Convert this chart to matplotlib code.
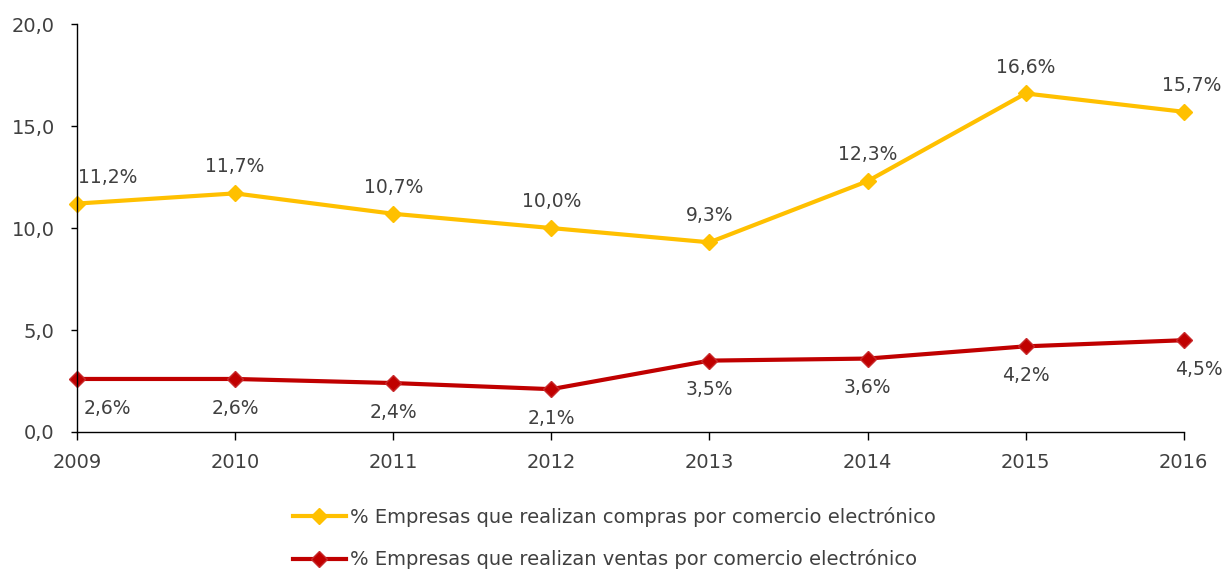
import matplotlib.pyplot as plt
from matplotlib.ticker import FuncFormatter

years = [2009, 2010, 2011, 2012, 2013, 2014, 2015, 2016]
compras = [11.2, 11.7, 10.7, 10.0, 9.3, 12.3, 16.6, 15.7]
ventas = [2.6, 2.6, 2.4, 2.1, 3.5, 3.6, 4.2, 4.5]
label_compras = "% Empresas que realizan compras por comercio electrónico"
label_ventas = "% Empresas que realizan ventas por comercio electrónico"

yellow = "#FFC000"
red = "#C00000"
grey = "#404040"

plt.rcParams['font.family'] = ['DejaVu Sans']

fig = plt.figure(figsize=(12.28, 5.74), dpi=100)
ax = fig.add_axes([0.0627, 0.2474, 0.9013, 0.7106])

ax.plot(years, compras, color=yellow, lw=3, marker='D', ms=8, label=label_compras)
ax.plot(years, ventas, color=red, lw=3, marker='D', ms=8, mec="#C8292B", label=label_ventas)

def fmt(v):
    return ("%.1f%%" % v).replace('.', ',')

# data labels
for i, (x, v) in enumerate(zip(years, compras)):
    dx = 0
    ha = 'center'
    if i == 0:
        dx, ha = 1, 'left'
    elif i == len(years) - 1:
        dx = 6
    ax.annotate(fmt(v), (x, v), xytext=(dx, 19), textcoords='offset points',
                ha=ha, va='center', fontsize=13.5, color=grey)
for i, (x, v) in enumerate(zip(years, ventas)):
    dx = 0
    ha = 'center'
    if i == 0:
        dx, ha = 5, 'left'
    elif i == len(years) - 1:
        dx = 11
    ax.annotate(fmt(v), (x, v), xytext=(dx, -21), textcoords='offset points',
                ha=ha, va='center', fontsize=13.5, color=grey)

ax.set_xlim(2009, 2016)
ax.set_ylim(0, 20)
ax.set_xticks(years)
ax.set_yticks([0, 5, 10, 15, 20])
ax.yaxis.set_major_formatter(FuncFormatter(lambda v, p: ("%.1f" % v).replace('.', ',')))

for s in ['top', 'right']:
    ax.spines[s].set_visible(False)
for s in ['left', 'bottom']:
    ax.spines[s].set_color('black')
    ax.spines[s].set_linewidth(1)
ax.tick_params(axis='both', colors='black', labelcolor=grey, labelsize=14,
               width=1, direction='out')
ax.tick_params(axis='y', length=4, pad=12)
ax.tick_params(axis='x', length=6, pad=9)
for ln in ax.lines:
    ln.set_clip_on(False)

fig.legend(loc='upper left', bbox_to_anchor=(293 / 1228, 1 - 507 / 574), frameon=False,
           fontsize=14, labelcolor=grey, handlelength=2.7, handletextpad=0.25,
           labelspacing=1.15, borderaxespad=0, borderpad=0)

fig.savefig("out.png", dpi=100)
